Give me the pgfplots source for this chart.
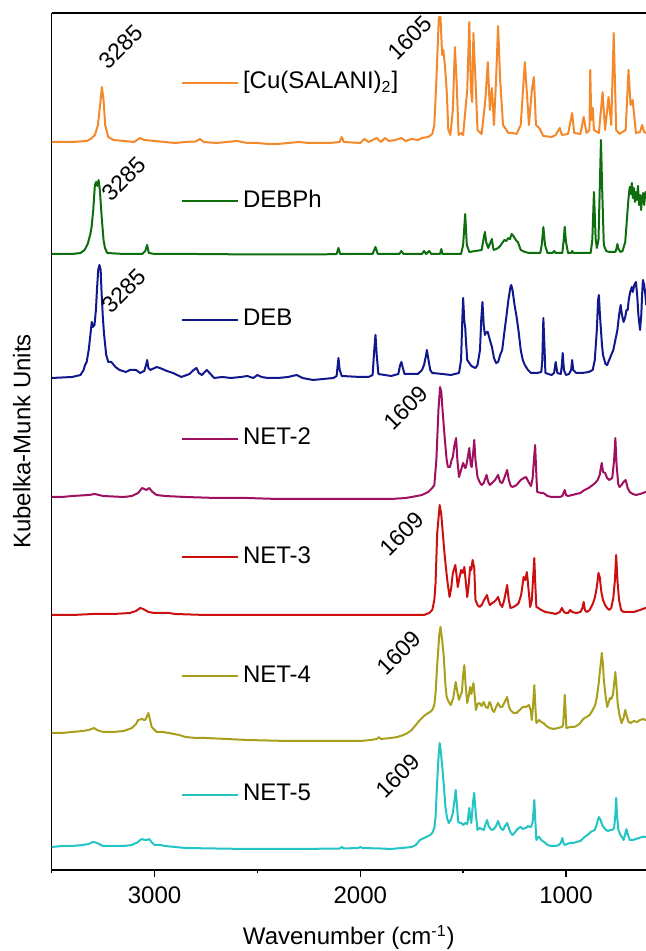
\documentclass[border=0pt]{standalone}
\usepackage{fontspec}
\setmainfont{Liberation Sans}
\usepackage{pgfplots}
\pgfplotsset{compat=1.18}
\definecolor{cOr}{RGB}{244,137,44}
\definecolor{cGr}{RGB}{12,110,12}
\definecolor{cBl}{RGB}{16,24,140}
\definecolor{cMg}{RGB}{160,16,96}
\definecolor{cRd}{RGB}{204,16,16}
\definecolor{cOl}{RGB}{168,160,28}
\definecolor{cCy}{RGB}{36,196,196}
\newcommand{\bigfont}{\fontsize{12}{14}\selectfont}
\newcommand{\annfont}{\fontsize{11.5}{13}\selectfont}
\begin{document}
\begin{tikzpicture}
\begin{axis}[
  at={(0,0)}, anchor=south west,
  scale only axis, width=297.15pt, height=428.5pt,
  x dir=reverse, xmin=611, xmax=3500, ymin=0, ymax=857,
  axis x line=box, axis y line=left, axis line style={-, line width=0.7pt},
  xtick={1000,2000,3000}, minor xtick={1500,2500,3500}, ytick=\empty,
  xtick pos=left, tick align=outside,
  major tick length=3.3pt, minor tick length=1.7pt,
  tick style={line width=0.7pt, black},
  xticklabel style={font=\bigfont, inner sep=0pt, anchor=north, yshift=-5pt,
    /pgf/number format/1000 sep={}, /pgf/number format/assume math mode=true},
  xlabel={Wavenumber (cm\textsuperscript{-1})},
  xlabel style={font=\bigfont, at={(axis description cs:0.5,0)}, anchor=base, yshift=-37.5pt, inner sep=0pt},
  ylabel={Kubelka-Munk Units},
  ylabel style={font=\bigfont, at={(axis description cs:-0.0348,0.5)}, anchor=south, inner sep=0pt},
  every axis plot/.append style={line width=1pt, line join=round},
  legend style={draw=none, fill=none, at={(axis description cs:0.2176,0.9328)}, anchor=north west,
    inner sep=0pt, outer sep=0pt, row sep=47.35pt, column sep=2pt, font=\bigfont,
    nodes={inner sep=0pt, text height=9pt, text depth=3pt}},
  legend cell align=left,
  legend image code/.code={\draw[#1] (0pt,0pt) -- (28pt,0pt);},
]
\addplot[cOr] coordinates {(3500,728)(3400,728)(3330,729)(3310,731)(3290,735)(3275,745)(3262,770)(3256,783)(3248,770)(3240,745)(3225,733)(3200,730)(3150,729)(3100,728)(3070,732)(3050,730)(3000,729)(2950,728)(2900,727)(2850,728)(2800,728.5)(2780,731)(2760,728)(2700,727)(2650,728)(2600,729)(2550,727)(2500,727)(2450,726)(2400,726)(2350,727)(2300,728)(2250,727)(2200,727)(2150,727)(2100,728)(2090,733)(2080,728)(2000,727)(1980,731)(1960,728)(1920,732)(1900,728)(1880,732)(1860,729)(1830,730)(1800,732)(1780,729)(1750,731)(1720,730)(1700,732)(1670,733)(1650,736)(1640,745)(1630,790)(1618,853)(1610,853)(1602,815)(1596,820)(1588,803)(1580,780)(1572,740)(1562,735)(1550,760)(1540,823)(1532,790)(1522,735)(1510,737)(1500,735)(1480,780)(1470,848)(1462,780)(1456,768)(1450,837)(1440,790)(1430,740)(1410,736)(1392,770)(1380,808)(1370,760)(1360,782)(1350,745)(1340,790)(1330,844)(1320,790)(1306,745)(1280,737)(1260,737)(1240,736)(1220,745)(1200,808)(1180,745)(1166,780)(1156,793)(1146,745)(1130,742)(1110,734)(1070,733)(1050,735)(1030,742)(1020,735)(990,736)(970,757)(960,737)(930,736)(914,753)(900,737)(886,740)(882,800)(877,750)(870,762)(864,740)(840,737)(822,778)(810,740)(793,773)(780,745)(768,837)(756,740)(740,736)(710,740)(696,800)(686,765)(676,770)(660,737)(640,738)(630,745)(620,738)(610,737)};
\addlegendentry{[Cu(SALANI)\textsubscript{2}]}
\addplot[cGr] coordinates {(3500,616)(3400,616)(3360,617)(3340,620)(3325,626)(3312,636)(3306,643)(3298,660)(3290,685)(3284,688)(3278,684)(3272,690)(3266,680)(3257,653)(3248,630)(3241,622)(3230,617)(3150,616)(3060,616)(3045,619)(3036,625)(3028,617)(3000,616)(2800,616)(2500,615.5)(2200,615.5)(2115,616)(2106,622)(2098,616)(1940,616)(1926,623)(1915,616)(1810,616)(1800,619)(1790,616)(1700,616)(1690,619)(1680,616)(1665,619)(1655,616)(1612,616)(1606,621)(1600,616)(1510,616)(1500,625)(1490,656)(1482,625)(1470,618)(1410,620)(1400,632)(1394,638)(1388,628)(1378,622)(1370,626)(1360,631)(1354,622)(1350,620)(1330,622)(1320,624)(1310,627)(1300,630)(1290,629)(1280,632)(1272,631)(1264,636)(1256,634)(1250,632)(1240,629)(1234,628)(1225,623)(1220,620)(1200,618)(1180,617)(1125,617)(1118,625)(1110,643)(1102,625)(1090,617)(1065,617)(1058,619)(1050,617)(1018,617)(1012,628)(1006,643)(1000,628)(990,617)(975,617)(970,619)(965,617)(880,617)(872,630)(864,678)(856,632)(850,622)(842,630)(836,680)(830,730)(824,680)(816,625)(805,619)(790,618)(760,618)(755,621)(750,626)(745,621)(735,618)(725,619)(712,628)(704,650)(696,672)(690,683)(685,676)(680,687)(675,672)(670,682)(665,668)(660,678)(655,670)(650,684)(645,665)(640,675)(635,660)(630,672)(625,677)(620,665)(614,678)(610,672)};
\addlegendentry{DEBPh}
\addplot[cBl] coordinates {(3500,492)(3400,493)(3360,495)(3345,500)(3338,505)(3330,508)(3320,520)(3312,535)(3305,548)(3300,543)(3292,545)(3285,560)(3280,580)(3274,600)(3268,605)(3262,600)(3258,580)(3252,555)(3246,537)(3235,515)(3225,508)(3210,508)(3190,503)(3170,500)(3140,498)(3120,500)(3090,500)(3070,497)(3050,499)(3040,506)(3036,510)(3030,502)(3020,500)(2990,503)(2974,502)(2940,499)(2910,497)(2870,493)(2830,496)(2810,500)(2796,502)(2785,497)(2770,495)(2746,500)(2710,492)(2670,493)(2630,492)(2580,493)(2550,494)(2520,492)(2500,495)(2480,493)(2450,492)(2400,492)(2350,493)(2310,495)(2280,492)(2230,490)(2180,491)(2130,492)(2115,494)(2106,512)(2100,500)(2090,494)(2000,493)(1960,493)(1940,495)(1932,520)(1926,535)(1920,515)(1912,496)(1850,494)(1815,496)(1806,505)(1800,508)(1794,503)(1785,496)(1720,496)(1700,500)(1690,505)(1680,515)(1676,520)(1670,512)(1660,500)(1650,497)(1600,496)(1560,495)(1520,497)(1510,510)(1504,550)(1500,572)(1494,548)(1490,543)(1485,525)(1480,510)(1460,504)(1440,502)(1430,505)(1418,520)(1412,550)(1406,568)(1400,545)(1394,535)(1390,537)(1384,538)(1380,538)(1370,530)(1360,523)(1350,512)(1340,507)(1330,508)(1320,515)(1310,520)(1300,537)(1290,553)(1280,570)(1270,583)(1266,585)(1260,580)(1250,565)(1240,553)(1230,538)(1220,520)(1210,510)(1200,505)(1185,500)(1170,497)(1140,497)(1120,498)(1115,510)(1110,552)(1104,520)(1100,497)(1070,495)(1058,497)(1050,508)(1042,497)(1025,496)(1020,505)(1016,517)(1010,500)(1000,495)(985,496)(975,500)(970,510)(965,500)(950,497)(920,497)(890,498)(870,500)(860,510)(850,540)(844,570)(840,575)(835,555)(825,525)(820,515)(808,506)(800,505)(790,510)(780,515)(770,520)(760,530)(750,540)(742,555)(734,565)(728,555)(720,548)(712,553)(706,560)(700,560)(695,570)(688,578)(680,583)(675,578)(668,585)(660,588)(654,575)(648,555)(640,540)(634,555)(630,575)(626,590)(620,585)(614,575)(610,565)};
\addlegendentry{DEB}
\addplot[cMg] coordinates {(3500,373)(3450,373)(3400,374)(3320,375)(3290,376)(3250,374)(3150,373)(3110,374)(3080,377)(3060,382)(3050,381)(3040,380)(3026,382)(3010,378)(2990,375)(2950,374)(2850,373)(2700,372)(2550,372)(2400,371)(2150,371)(2000,371)(1850,371)(1780,372)(1750,373)(1700,375)(1670,378)(1650,382)(1640,385)(1630,410)(1620,460)(1612,483)(1606,478)(1600,460)(1590,433)(1580,410)(1574,403)(1564,403)(1556,410)(1550,413)(1542,425)(1534,432)(1528,410)(1520,393)(1510,400)(1500,407)(1490,402)(1486,403)(1478,412)(1470,422)(1463,405)(1458,403)(1450,420)(1446,430)(1440,410)(1430,393)(1420,388)(1410,385)(1400,387)(1386,395)(1378,388)(1370,385)(1360,387)(1345,390)(1330,395)(1320,388)(1310,387)(1300,392)(1286,400)(1278,390)(1268,384)(1260,383)(1240,385)(1220,390)(1205,392)(1194,393)(1182,388)(1170,384)(1162,392)(1156,410)(1150,425)(1144,395)(1140,378)(1120,377)(1110,377)(1090,374)(1070,373)(1050,373)(1030,373)(1018,374)(1010,378)(1006,380)(1000,375)(990,374)(970,375)(950,376)(930,377)(910,380)(890,382)(870,385)(858,387)(846,390)(836,395)(830,403)(826,407)(820,398)(810,397)(800,392)(790,390)(775,392)(766,410)(760,432)(754,405)(746,386)(740,383)(730,385)(720,388)(710,390)(700,382)(690,378)(675,376)(660,375)(640,376)(625,377)(614,378)(610,378)};
\addlegendentry{NET-2}
\addplot[cRd] coordinates {(3500,255)(3400,255)(3300,256)(3200,256)(3120,257)(3090,259)(3070,262)(3055,261)(3030,258)(3000,257)(2930,257)(2900,256)(2750,255)(2500,255)(2200,255)(1900,255)(1700,255)(1690,255)(1665,257)(1650,260)(1640,270)(1634,287)(1626,337)(1614,365)(1606,355)(1600,340)(1592,320)(1584,303)(1576,288)(1566,273)(1558,282)(1550,297)(1538,305)(1532,295)(1526,283)(1518,292)(1510,300)(1502,297)(1494,303)(1487,288)(1480,273)(1473,285)(1466,303)(1460,300)(1454,310)(1446,302)(1440,270)(1430,265)(1420,263)(1410,265)(1398,270)(1384,275)(1376,268)(1370,265)(1358,267)(1350,268)(1340,270)(1330,273)(1320,266)(1310,263)(1300,270)(1286,285)(1278,270)(1270,262)(1255,263)(1240,265)(1230,267)(1218,275)(1206,293)(1198,290)(1190,298)(1184,285)(1174,263)(1166,270)(1154,312)(1148,280)(1144,263)(1135,262)(1120,260)(1100,258)(1070,257)(1050,256)(1030,258)(1020,262)(1010,258)(1000,257)(990,257)(980,260)(970,258)(950,257)(930,258)(920,262)(914,268)(908,260)(900,258)(885,260)(870,266)(860,272)(850,283)(842,297)(836,293)(828,278)(820,270)(810,265)(800,262)(790,260)(780,262)(770,272)(762,290)(756,315)(750,290)(742,270)(732,260)(720,258)(700,258)(670,258)(640,260)(614,262)(610,262)};
\addlegendentry{NET-3}
\addplot[cOl] coordinates {(3500,137)(3450,137)(3400,138)(3350,139)(3320,140)(3294,142)(3280,140)(3250,138)(3230,138)(3200,138)(3150,139)(3110,142)(3090,146)(3080,150)(3060,151)(3052,150)(3046,150)(3038,153)(3030,157)(3024,152)(3014,143)(2990,138)(2960,138)(2930,137)(2880,135)(2850,133)(2800,132)(2750,132)(2650,131)(2550,130)(2350,129)(2150,129)(2000,129)(1950,130)(1920,131)(1910,133)(1900,131)(1850,132)(1820,133)(1790,135)(1770,137)(1750,140)(1730,145)(1710,150)(1690,154)(1670,157)(1660,158)(1650,160)(1640,165)(1634,177)(1626,205)(1622,217)(1616,235)(1610,243)(1602,230)(1594,213)(1586,185)(1580,173)(1570,168)(1560,165)(1548,172)(1542,180)(1536,188)(1528,178)(1520,170)(1512,175)(1506,178)(1500,195)(1494,205)(1488,185)(1480,167)(1472,175)(1466,183)(1460,176)(1450,187)(1444,175)(1438,160)(1430,166)(1420,167)(1410,164)(1400,168)(1390,163)(1380,162)(1372,168)(1366,166)(1358,160)(1350,158)(1340,163)(1330,167)(1320,163)(1310,163)(1298,168)(1286,173)(1278,164)(1270,160)(1255,157)(1240,157)(1225,160)(1210,163)(1195,163)(1180,165)(1172,160)(1166,150)(1160,165)(1154,185)(1148,160)(1144,147)(1130,150)(1120,148)(1110,147)(1095,144)(1080,142)(1060,141)(1040,142)(1020,143)(1014,145)(1008,165)(1006,175)(1002,160)(998,142)(980,143)(960,143)(950,144)(935,146)(920,150)(910,152)(900,153)(885,155)(870,160)(858,165)(850,173)(842,185)(836,197)(830,208)(826,217)(820,205)(816,190)(808,175)(800,163)(792,168)(786,172)(780,171)(772,175)(764,190)(760,198)(755,185)(748,165)(740,155)(730,147)(720,152)(712,160)(706,155)(696,148)(686,147)(670,149)(655,148)(640,150)(625,151)(614,150)(610,150)};
\addlegendentry{NET-4}
\addplot[cCy] coordinates {(3500,23)(3450,24)(3400,24)(3350,25)(3320,26)(3300,28)(3294,28)(3280,27)(3260,25)(3250,24)(3200,24)(3150,24)(3110,25)(3090,27)(3080,28)(3070,30)(3060,31)(3050,30)(3046,30)(3036,30)(3026,31)(3015,28)(3000,25)(2970,25)(2950,24)(2900,23)(2850,22)(2700,21.5)(2550,21)(2300,21)(2100,21.5)(2090,23)(2080,21.5)(2010,22)(2000,23)(1990,22)(1900,21.5)(1850,21)(1800,22)(1750,23)(1730,25)(1710,30)(1690,32)(1670,34)(1660,35)(1650,37)(1640,42)(1634,53)(1628,80)(1624,97)(1618,118)(1614,127)(1608,118)(1600,100)(1592,80)(1586,63)(1578,52)(1570,47)(1560,50)(1550,57)(1542,70)(1536,80)(1530,65)(1524,48)(1515,47)(1508,47)(1500,45)(1490,47)(1480,46)(1474,55)(1470,62)(1466,52)(1460,47)(1452,68)(1446,77)(1440,60)(1430,40)(1420,42)(1410,41)(1400,40)(1392,45)(1384,50)(1376,44)(1366,41)(1360,40)(1350,41)(1340,44)(1330,49)(1322,44)(1314,41)(1306,40)(1296,44)(1286,47)(1278,42)(1268,37)(1260,35)(1250,37)(1240,40)(1230,42)(1220,43)(1210,41)(1200,42)(1194,42)(1185,44)(1176,43)(1170,43)(1162,48)(1154,70)(1148,45)(1144,30)(1136,33)(1130,33)(1120,30)(1100,27)(1090,25)(1070,24)(1050,24)(1035,25)(1025,27)(1018,32)(1012,27)(1006,25)(995,26)(980,27)(965,27)(950,28)(930,29)(910,33)(895,35)(880,38)(870,39)(860,40)(850,46)(845,50)(840,53)(832,50)(824,45)(814,42)(805,40)(795,39)(785,40)(775,40)(766,42)(760,55)(756,72)(752,55)(745,40)(735,35)(725,32)(720,30)(712,36)(706,41)(700,36)(690,30)(675,30)(660,31)(645,32)(630,33)(614,33)(610,33)};
\addlegendentry{NET-5}
\node[rotate=45, anchor=base west, inner sep=0pt, font=\annfont] at (axis cs:3226,799) {3285};
\node[rotate=45, anchor=base west, inner sep=0pt, font=\annfont] at (axis cs:1820,808) {1605};
\node[rotate=45, anchor=base west, inner sep=0pt, font=\annfont] at (axis cs:3209,667) {3285};
\node[rotate=45, anchor=base west, inner sep=0pt, font=\annfont] at (axis cs:3209,555) {3285};
\node[rotate=45, anchor=base west, inner sep=0pt, font=\annfont] at (axis cs:1840,438) {1609};
\node[rotate=45, anchor=base west, inner sep=0pt, font=\annfont] at (axis cs:1860,312) {1609};
\node[rotate=45, anchor=base west, inner sep=0pt, font=\annfont] at (axis cs:1876,193) {1609};
\node[rotate=45, anchor=base west, inner sep=0pt, font=\annfont] at (axis cs:1880,70) {1609};
\end{axis}
\pgfresetboundingbox
\path[use as bounding box] (-25.85pt,-40.5pt) rectangle (297.15pt,435pt);
\end{tikzpicture}
\end{document}
